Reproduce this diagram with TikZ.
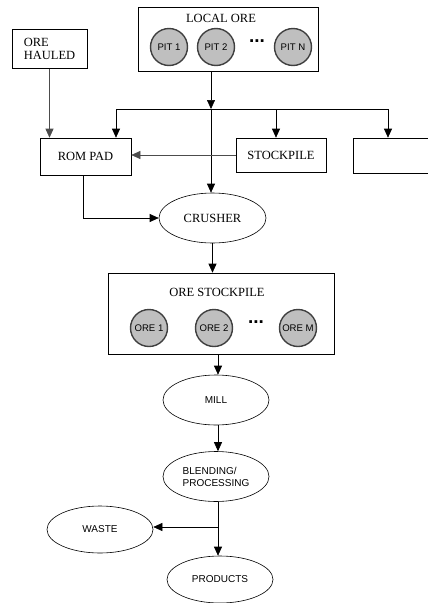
\documentclass[tikz,border=0pt]{standalone}
\usepackage{fontspec}
\setmainfont{Liberation Serif}
\setsansfont{Liberation Sans}
\usetikzlibrary{arrows.meta,shapes.geometric}

\begin{document}
\begin{tikzpicture}[x=1pt,y=-1pt,
    box/.style={draw,line width=0.6pt,inner sep=0pt,font=\fontsize{12.5}{13}\selectfont},
    oval/.style={draw,ellipse,line width=0.6pt,inner sep=0pt,font=\sffamily\fontsize{10}{12}\selectfont},
    pit/.style={circle,draw=black!75,fill=black!25,line width=1.4pt,minimum size=37pt,inner sep=0pt,font=\sffamily\fontsize{9.6}{11}\selectfont},
    dots/.style={font=\sffamily\bfseries\fontsize{19}{19}\selectfont},
    flow/.style={line width=0.6pt,-{Triangle[width=8pt,length=9pt]}}]
  \clip (0,0) rectangle (428,603);
  \begin{scope}
    \node[box,minimum width=75pt,minimum height=39pt,align=left] (hauled) at (49.5,49) {ORE\\HAULED};
    \node[box,minimum width=180pt,minimum height=64pt] (local) at (228,39) {};
    \node[font=\fontsize{12.5}{13}\selectfont] (localtxt) at (221,18) {LOCAL ORE};
    \node[pit] (pit1) at (169,47) {PIT 1};
    \node[pit] (pit2) at (216,47) {PIT 2};
    \node[dots] (dots1) at (257,41) {...};
    \node[pit] (pitn) at (293,47) {PIT N};

    \node[box,minimum width=91pt,minimum height=37pt] (rompad) at (85.5,156.5) {ROM PAD};
    \node[box,minimum width=90pt,minimum height=34pt] (stockpile) at (281,155) {STOCKPILE};
    \node[box,minimum width=90pt,minimum height=35pt] (blank) at (398,155.5) {};

    \node[box,ellipse,minimum width=107pt,minimum height=50pt] (crusher) at (212.5,218) {CRUSHER};

    \node[box,minimum width=226pt,minimum height=81pt] (orestock) at (221,313.5) {};
    \node[font=\fontsize{12.5}{13}\selectfont] (orestocktxt) at (217,292) {ORE STOCKPILE};
    \node[pit] (ore1) at (149,328) {ORE 1};
    \node[pit] (ore2) at (214,328) {ORE 2};
    \node[dots] (dots2) at (256,322) {...};
    \node[pit] (orem) at (298,328) {ORE M};

    \node[oval,minimum width=106pt,minimum height=50pt] (mill) at (216,400) {MILL};
    \node[oval,minimum width=106pt,minimum height=50pt,align=left] (blend) at (216,476.5) {BLENDING/\\PROCESSING};
    \node[oval,minimum width=106pt,minimum height=47pt] (waste) at (100,529.5) {WASTE};
    \node[oval,minimum width=106pt,minimum height=47pt] (products) at (220,579.5) {PRODUCTS};

    \coordinate (hub) at (211,109);
    \coordinate (hl) at (116,109);
    \coordinate (hs) at (276,109);
    \coordinate (hr) at (388,109);
    \draw[flow] (local.south -| hub) -- (hub);
    \draw[line width=0.6pt] (hl) -- (hr);
    \draw[flow] (hl) -- (hl |- rompad.north);
    \draw[flow] (hs) -- (hs |- stockpile.north);
    \draw[flow] (hr) -- (hr |- blank.north);
    \draw[flow] (hub) -- (hub |- crusher.north);
    \draw[flow,black!70] (hauled.south) -- (hauled.south |- rompad.north);
    \draw[flow,black!70] (stockpile.west) -- (stockpile.west -| rompad.east);
    \draw[flow] ([xshift=-2.5pt]rompad.south) |- (crusher.west);
    \draw[flow] (crusher.south) -- (crusher.south |- orestock.north);
    \draw[flow] ([xshift=2pt]mill.north |- orestock.south) -- ([xshift=2pt]mill.north);
    \draw[flow] ([xshift=2pt]mill.south) -- ([xshift=2pt]blend.north);
    \coordinate (br) at ([xshift=2pt]blend.south |- 0,527);
    \draw[flow] ([xshift=2pt]blend.south) -- ([xshift=2pt]blend.south |- products.north);
    \draw[flow] (br) -- (br -| waste.east);
  \end{scope}
\end{tikzpicture}
\end{document}
